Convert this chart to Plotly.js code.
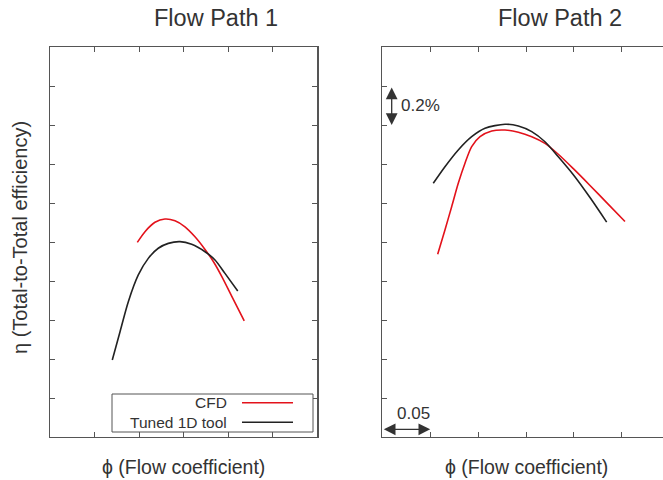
<!DOCTYPE html>
<html>
<head>
<meta charset="utf-8">
<script src="https://cdn.plot.ly/plotly-3.0.1.min.js"></script>
<style>html,body{margin:0;padding:0;background:#fff;}#chart{width:663px;height:480px;}</style>
</head>
<body>
<div id="chart"></div>
<script>
// Flow Path 1 (relative phi, relative efficiency in %)
const fp1CfdPhi = [0.098, 0.1066, 0.1178, 0.129, 0.1403, 0.1515, 0.1627, 0.174, 0.184, 0.1927, 0.2039, 0.218];
const fp1CfdEta = [0.998, 1.053, 1.101, 1.118, 1.109, 1.078, 1.027, 0.962, 0.895, 0.824, 0.723, 0.595];
const fp1ToolPhi = [0.0699, 0.0786, 0.0879, 0.0991, 0.1103, 0.1215, 0.1328, 0.1459, 0.159, 0.174, 0.1852, 0.1964, 0.2107];
const fp1ToolEta = [0.395, 0.540, 0.694, 0.831, 0.916, 0.968, 0.993, 1.002, 0.988, 0.950, 0.908, 0.839, 0.749];
// Flow Path 2
const fp2CfdPhi = [0.0578, 0.0654, 0.0724, 0.0793, 0.0863, 0.0933, 0.102, 0.1142, 0.1281, 0.142, 0.156, 0.1698, 0.1837, 0.1994, 0.2168, 0.2342, 0.2533];
const fp2CfdEta = [0.937, 1.062, 1.181, 1.301, 1.404, 1.489, 1.540, 1.569, 1.574, 1.563, 1.540, 1.506, 1.450, 1.376, 1.290, 1.202, 1.105];
const fp2ToolPhi = [0.0532, 0.0654, 0.0793, 0.0933, 0.1072, 0.1281, 0.142, 0.156, 0.1698, 0.1837, 0.1994, 0.2168, 0.2342];
const fp2ToolEta = [1.301, 1.386, 1.472, 1.540, 1.583, 1.604, 1.595, 1.566, 1.514, 1.437, 1.345, 1.228, 1.102];

const panelTitles = ['Flow Path 1', 'Flow Path 2'];
const seriesNames = ['CFD', 'Tuned 1D tool'];
const xTitle = 'ϕ (Flow coefficient)';
const yTitle = 'η (Total-to-Total efficiency)';
const phiStep = 0.05;
const etaStep = 0.2;

const RED = '#e3121b', BLK = '#222222', AX = '#555555', TXT = '#333333';
const W = 663, H = 480;
const px = v => v / W, py = v => 1 - v / H;
const FONT = '"Liberation Sans", Arial, sans-serif';

const line = (c) => ({color: c, width: 1.6, shape: 'spline', smoothing: 0.8});
const traces = [
  {x: fp1CfdPhi, y: fp1CfdEta, xaxis: 'x', yaxis: 'y', mode: 'lines', line: line(RED), name: seriesNames[0]},
  {x: fp1ToolPhi, y: fp1ToolEta, xaxis: 'x', yaxis: 'y', mode: 'lines', line: line(BLK), name: seriesNames[1]},
  {x: fp2CfdPhi, y: fp2CfdEta, xaxis: 'x2', yaxis: 'y2', mode: 'lines', line: line(RED), name: seriesNames[0]},
  {x: fp2ToolPhi, y: fp2ToolEta, xaxis: 'x2', yaxis: 'y2', mode: 'lines', line: line(BLK), name: seriesNames[1]}
];

const axBase = {showline: true, linecolor: AX, linewidth: 1.3, ticks: 'inside', ticklen: 5,
  tickcolor: AX, tickwidth: 1, showticklabels: false, showgrid: false, zeroline: false, fixedrange: true};
const yDom = [py(437), py(47)];

const layout = {
  width: W, height: H, margin: {l: 0, r: 0, t: 0, b: 0},
  paper_bgcolor: '#fff', plot_bgcolor: '#fff', showlegend: false,
  font: {family: FONT, color: TXT},
  xaxis: Object.assign({}, axBase, {domain: [px(50), px(317.3)], range: [0, 6 * phiStep], dtick: phiStep, tick0: 0, mirror: 'ticks', anchor: 'y'}),
  yaxis: Object.assign({}, axBase, {domain: yDom, range: [0, 10 * etaStep], dtick: etaStep, tick0: 0, mirror: 'ticks', anchor: 'x'}),
  xaxis2: Object.assign({}, axBase, {domain: [px(382.3), 1], range: [0, 0.293], dtick: phiStep, tick0: 0, mirror: 'ticks', anchor: 'y2'}),
  yaxis2: Object.assign({}, axBase, {domain: yDom, range: [0, 10 * etaStep], dtick: etaStep, tick0: 0, mirror: false, anchor: 'x2'}),
  shapes: [
    {type: 'rect', xref: 'paper', yref: 'paper', x0: px(112), x1: px(313), y0: py(432), y1: py(394),
     line: {color: AX, width: 1}, fillcolor: '#fff', layer: 'above'},
    {type: 'line', xref: 'paper', yref: 'paper', x0: px(242), x1: px(293), y0: py(402.7), y1: py(402.7), line: {color: RED, width: 1.6}},
    {type: 'line', xref: 'paper', yref: 'paper', x0: px(242), x1: px(293), y0: py(422.3), y1: py(422.3), line: {color: BLK, width: 1.6}}
  ],
  annotations: [
    {text: panelTitles[0], xref: 'paper', yref: 'paper', x: px(216), y: py(18), showarrow: false, font: {size: 23.5, color: TXT}, xanchor: 'center', yanchor: 'middle'},
    {text: panelTitles[1], xref: 'paper', yref: 'paper', x: px(560), y: py(18), showarrow: false, font: {size: 23.5, color: TXT}, xanchor: 'center', yanchor: 'middle'},
    {text: xTitle, xref: 'paper', yref: 'paper', x: px(183), y: py(467), showarrow: false, font: {size: 19.5, color: TXT}, xanchor: 'center', yanchor: 'middle'},
    {text: xTitle, xref: 'paper', yref: 'paper', x: px(526), y: py(467), showarrow: false, font: {size: 19.5, color: TXT}, xanchor: 'center', yanchor: 'middle'},
    {text: yTitle, xref: 'paper', yref: 'paper', x: px(20), y: py(238), showarrow: false, textangle: -90, font: {size: 20, color: TXT}, xanchor: 'center', yanchor: 'middle'},
    {text: seriesNames[0], xref: 'paper', yref: 'paper', x: px(229), y: py(402.7), showarrow: false, font: {size: 15.5, color: TXT}, xanchor: 'right', yanchor: 'middle'},
    {text: seriesNames[1], xref: 'paper', yref: 'paper', x: px(229), y: py(422.3), showarrow: false, font: {size: 15.5, color: TXT}, xanchor: 'right', yanchor: 'middle'},
    // scale arrows
    {text: '', xref: 'x2', yref: 'y2', axref: 'x2', ayref: 'y2', x: 0.0098, y: 8 * etaStep, ax: 0.0098, ay: 9 * etaStep,
     showarrow: true, arrowside: 'end+start', arrowhead: 2, arrowsize: 1.8, arrowwidth: 1.3, arrowcolor: TXT, standoff: 0, startstandoff: 0},
    {text: '0.2%', xref: 'paper', yref: 'paper', x: px(399), y: py(105), showarrow: false, font: {size: 17, color: TXT}, xanchor: 'left', yanchor: 'middle'},
    {text: '', xref: 'x2', yref: 'y2', axref: 'x2', ayref: 'y2', x: phiStep, y: (437 - 429.3) / 195, ax: 0, ay: (437 - 429.3) / 195,
     showarrow: true, arrowside: 'end+start', arrowhead: 2, arrowsize: 1.8, arrowwidth: 1.3, arrowcolor: TXT, standoff: 0, startstandoff: 0},
    {text: '0.05', xref: 'paper', yref: 'paper', x: px(413), y: py(413), showarrow: false, font: {size: 17, color: TXT}, xanchor: 'center', yanchor: 'middle'}
  ]
};

Plotly.newPlot('chart', traces, layout, {staticPlot: true, displayModeBar: false});
</script>
</body>
</html>
